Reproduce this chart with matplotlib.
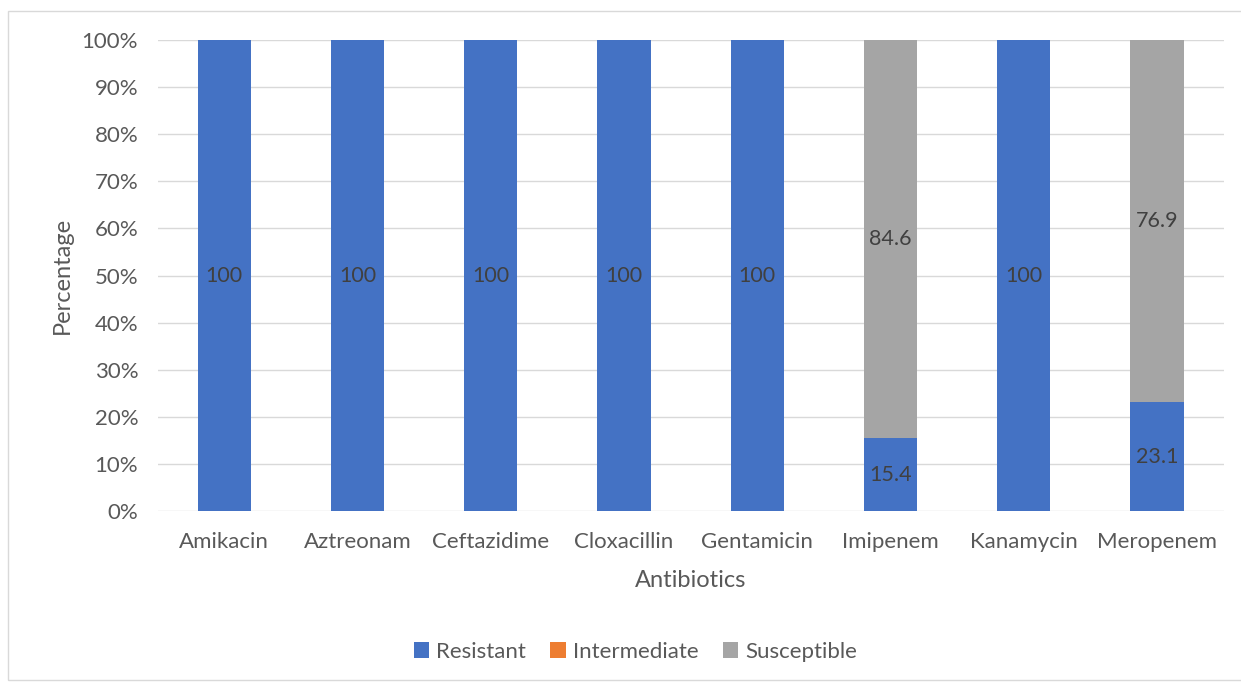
import matplotlib.pyplot as plt
import matplotlib.patches as mpatches
import numpy as np

antibiotics = ["Amikacin", "Aztreonam", "Ceftazidime", "Cloxacillin",
               "Gentamicin", "Imipenem", "Kanamycin", "Meropenem"]
resistant = [100, 100, 100, 100, 100, 15.4, 100, 23.1]
intermediate = [0, 0, 0, 0, 0, 0, 0, 0]
susceptible = [0, 0, 0, 0, 0, 84.6, 0, 76.9]

series = [("Resistant", resistant, "#4472C4"),
          ("Intermediate", intermediate, "#ED7D31"),
          ("Susceptible", susceptible, "#A5A5A5")]

plt.rcParams['font.family'] = ['Lato', 'DejaVu Sans']

fig = plt.figure(figsize=(12.41, 6.82), dpi=100)
ax = fig.add_axes([0.127, 0.2507, 0.859, 0.6906])

# chart frame
fig.patches.append(mpatches.Rectangle((8 / 1241, 2 / 682), 1.0, 669 / 682,
                                      transform=fig.transFigure, fill=False,
                                      edgecolor="#d9d9d9", linewidth=1))

x = np.arange(len(antibiotics))
bottom = np.zeros(len(antibiotics))
for name, vals, color in series:
    vals = np.array(vals, dtype=float)
    bars = ax.bar(x, vals, 0.4, bottom=bottom, color=color, label=name,
                  zorder=3)
    for xi, b, v in zip(x, bottom, vals):
        if v > 0:
            ax.text(xi, b + v / 2, f"{v:g}", ha="center", va="center",
                    fontsize=15.5, color="#404040", zorder=4)
    bottom += vals

ax.set_xlim(-0.5, len(antibiotics) - 0.5)
ax.set_ylim(0, 100)
ax.set_yticks(np.arange(0, 101, 10))
ax.set_yticklabels([f"{t}%" for t in range(0, 101, 10)])
ax.set_xticks(x)
ax.set_xticklabels(antibiotics)
ax.yaxis.grid(True, color="#d9d9d9", linewidth=1, zorder=0)
ax.set_axisbelow(True)
for s in ax.spines.values():
    s.set_visible(False)
ax.tick_params(length=0, labelsize=16, colors="#595959")
ax.tick_params(axis="y", pad=14)
ax.tick_params(axis="x", pad=15)

ax.set_ylabel("Percentage", fontsize=17, color="#595959", labelpad=6)
ax.set_xlabel("Antibiotics", fontsize=17, color="#595959", labelpad=13)

fig.legend(loc="center", bbox_to_anchor=(0.512, 1 - 652 / 682), ncol=3,
           frameon=False, fontsize=16, handlelength=0.7, handleheight=0.7,
           handletextpad=0.3, columnspacing=1.1, labelcolor="#595959")

fig.savefig("out.png", dpi=100)
